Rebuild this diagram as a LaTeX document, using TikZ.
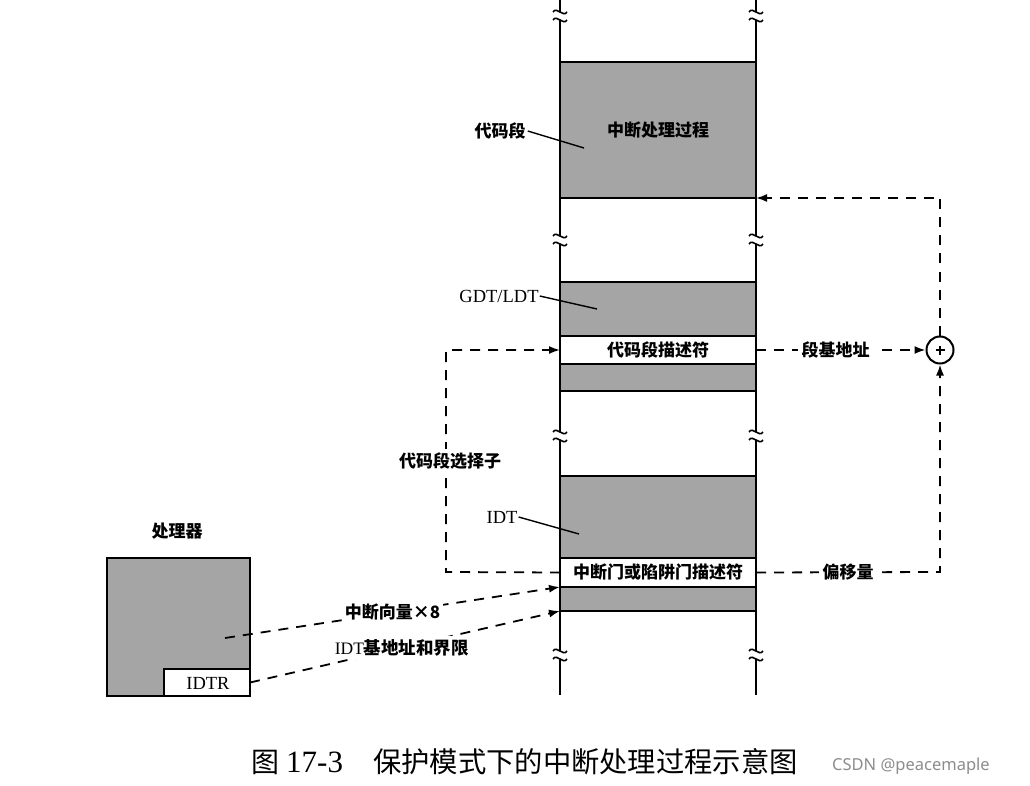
\documentclass[tikz,border=0pt]{standalone}
\usepackage{fontspec}
\setmainfont{Liberation Serif}
\newfontfamily\cjk{Noto Sans CJK SC}
\newfontfamily\csdnfont{Noto Sans}
\usetikzlibrary{arrows.meta}
\definecolor{segray}{RGB}{165,165,165}
\newcommand\brkmark[2]{%
  \draw[line width=1.6pt] ({#1-7},{#2-4}) .. controls ({#1-3},{#2-10}) and ({#1+3},{#2+2}) .. ({#1+7},{#2-4});
  \draw[line width=1.6pt] ({#1-7},{#2+4}) .. controls ({#1-3},{#2-2}) and ({#1+3},{#2+10}) .. ({#1+7},{#2+4});}
\tikzset{
  segbox/.style={draw, line width=2pt, fill=segray, inner sep=0pt, outer sep=0pt, anchor=north west},
  whitebox/.style={segbox, fill=white},
  cjklbl/.style={font=\cjk\bfseries\fontsize{17}{17}\selectfont, inner sep=2pt},
  latlbl/.style={font=\fontsize{18.5}{18.5}\selectfont, inner sep=1pt},
  dashconn/.style={line width=1.8pt, dash pattern=on 10pt off 8pt},
  tip/.style={-{Latex[length=11pt,width=8pt]}},
  onlabel/.style={cjklbl, fill=white, inner sep=4pt},
  leader/.style={line width=1.4pt}
}
\begin{document}
\begin{tikzpicture}[x=1pt,y=-1pt]
\useasboundingbox (0,0) rectangle (1030,786);
% vertical memory lines with breaks
\foreach \xx in {560,756}{
  \draw[line width=1.8pt] (\xx,0) -- (\xx,12);
  \draw[line width=1.8pt] (\xx,20) -- (\xx,62);
  \draw[line width=1.8pt] (\xx,198) -- (\xx,236);
  \draw[line width=1.8pt] (\xx,244) -- (\xx,282);
  \draw[line width=1.8pt] (\xx,391) -- (\xx,432);
  \draw[line width=1.8pt] (\xx,440) -- (\xx,476);
  \draw[line width=1.8pt] (\xx,611) -- (\xx,651);
  \draw[line width=1.8pt] (\xx,659) -- (\xx,695);
  \brkmark{\xx}{16}
  \brkmark{\xx}{240}
  \brkmark{\xx}{436}
  \brkmark{\xx}{655}
}
% code segment
\node[segbox, minimum width=196pt, minimum height=136pt] (cs) at (560,62) {};
\node[cjklbl] (cstext) at (658,130) {中断处理过程};
% GDT/LDT
\node[segbox, minimum width=196pt, minimum height=54pt] (gdt1) at (560,282) {};
\node[whitebox, minimum width=196pt, minimum height=28pt] (gdesc) at (560,336) {};
\node[cjklbl] at (gdesc.center) {代码段描述符};
\node[segbox, minimum width=196pt, minimum height=27pt] (gdt2) at (560,364) {};
% IDT
\node[segbox, minimum width=196pt, minimum height=82pt] (idt1) at (560,476) {};
\node[whitebox, minimum width=196pt, minimum height=29pt] (idesc) at (560,558) {};
\node[cjklbl] at (idesc.center) {中断门或陷阱门描述符};
\node[segbox, minimum width=196pt, minimum height=24pt] (idt2) at (560,587) {};
% adder
\node[draw, circle, line width=2pt, minimum size=27pt, inner sep=0pt, fill=white] (plus) at (940,350) {};
\draw[line width=1.6pt] ([xshift=-4.5pt]plus.center) -- ([xshift=4.5pt]plus.center);
\draw[line width=1.6pt] ([yshift=-4.5pt]plus.center) -- ([yshift=4.5pt]plus.center);
% processor
\node[segbox, minimum width=143pt, minimum height=138pt] (proc) at (107,558) {};
\node[whitebox, minimum width=86pt, minimum height=27pt] (idtr) at (164,669) {};
\node[latlbl] at (208,683) {IDTR};
\node[cjklbl] (proclbl) at (177,531) {处理器};
% leader labels
\node[cjklbl] (cslbl) at (500,131) {代码段};
\draw[leader] (cslbl.east) -- (584,148);
\node[latlbl] (gdtlbl) at (499,296) {GDT/LDT};
\draw[leader] (gdtlbl.east) -- (597,309);
\node[latlbl] (idtlbl) at (502,517) {IDT};
\draw[leader] (idtlbl.east) -- (579,534);
% connectors
\draw[dashconn, tip] (gdesc.east) -- node[onlabel, pos=0.47] {段基地址} (plus.west);
\draw[dashconn, tip] (idesc.east) -- node[onlabel, pos=0.5] {偏移量} (940,572) -- (plus.south);
\draw[dashconn, tip] (plus.north) |- (cs.south east);
\coordinate (selc) at (446,572);
\draw[dashconn, tip] (idesc.west) -- (selc) |- node[onlabel, pos=0.25, xshift=4pt] {代码段选择子} (gdesc.west);
\coordinate (pv) at (225,638);
\draw[dashconn, tip] (pv) -- node[onlabel, pos=0.5, inner sep=3pt] {中断向量{\bfseries ×}8} (idt2.north west);
\draw[dashconn, tip] (idtr.east) -- node[fill=white, inner sep=3pt, pos=0.49] {\fontsize{17.5}{17.5}\selectfont IDT{\cjk\bfseries 基地址和界限}} (idt2.south west);
% caption
\node[anchor=west, inner sep=0pt, font=\fontsize{28}{28}\selectfont] (cap1) at (251,762) {{\cjk 图} {\fontsize{31}{31}\selectfont 17-3}};
\node[anchor=west, inner sep=0pt, font=\cjk\fontsize{28.3}{28.3}\selectfont] (cap2) at (373,762) {保护模式下的中断处理过程示意图};
\node[anchor=west, inner sep=0pt, text=black!45, font=\csdnfont\fontsize{16.5}{16.5}\selectfont] (csdn) at (832,766) {CSDN @peacemaple};
\end{tikzpicture}
\end{document}
